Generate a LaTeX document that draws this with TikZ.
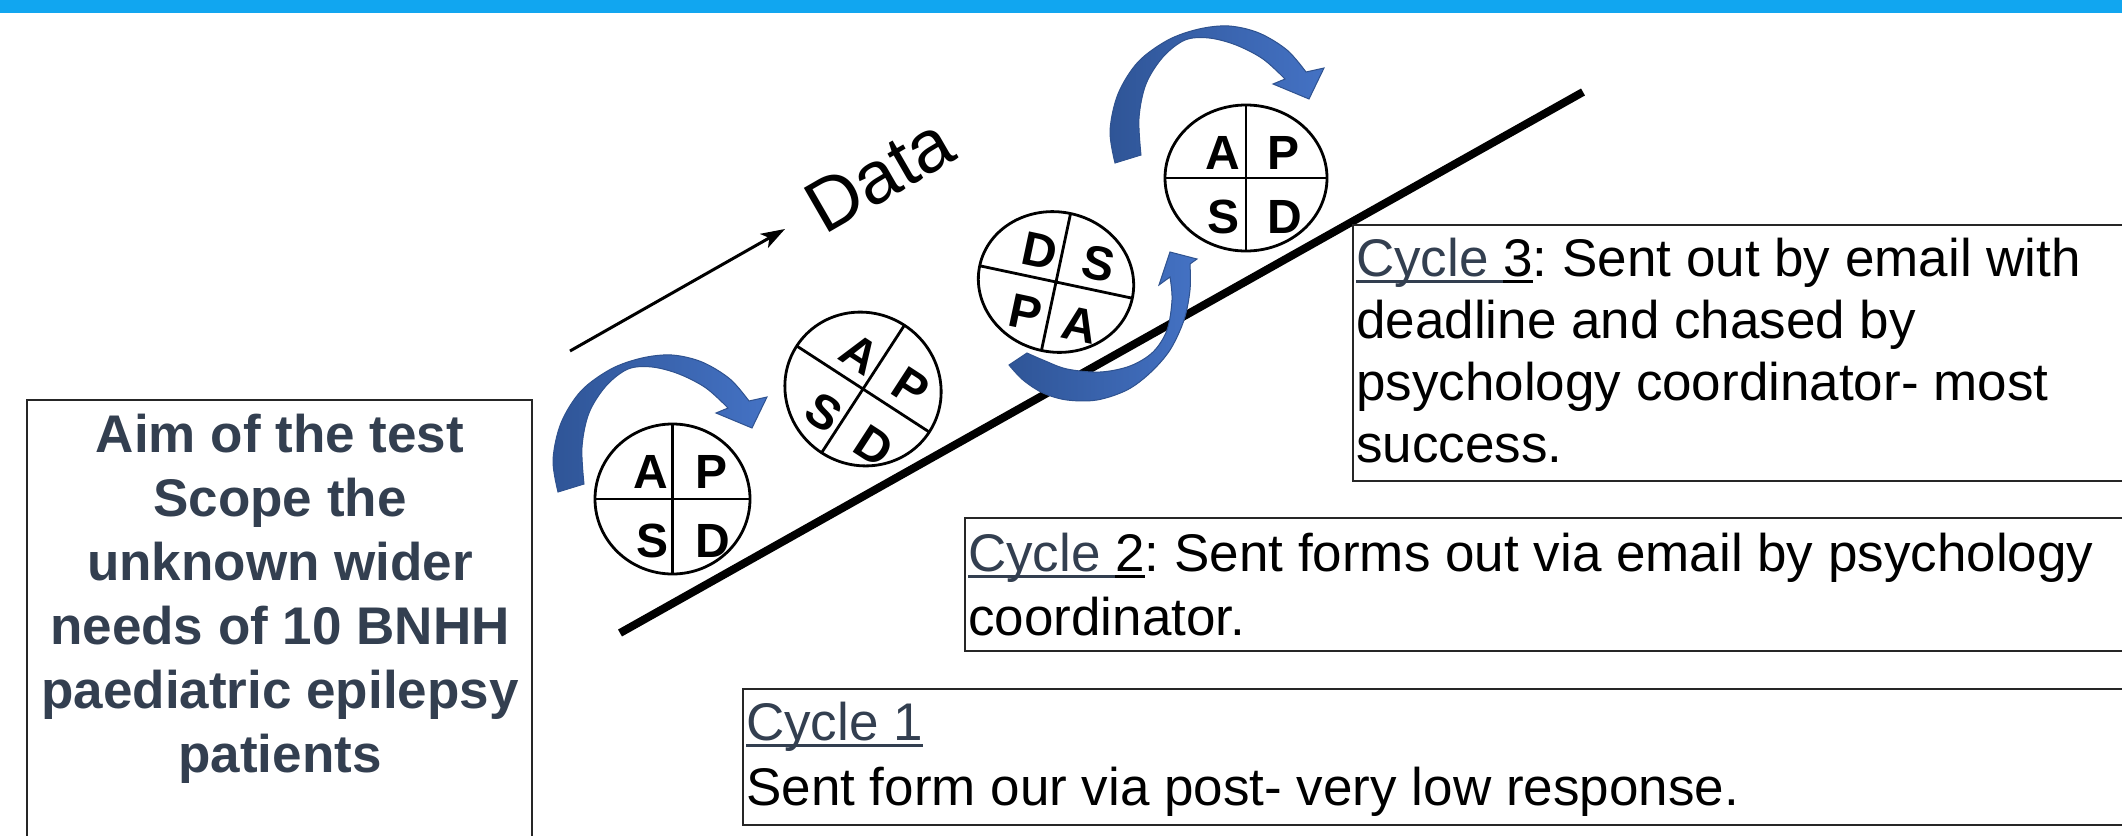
\documentclass[tikz,border=0pt]{standalone}
\usepackage{fontspec}
\setmainfont{Liberation Sans}
\usetikzlibrary{arrows.meta}
\definecolor{topbar}{RGB}{17,166,240}
\definecolor{slate}{RGB}{51,63,80}
\definecolor{alight}{RGB}{68,114,196}
\definecolor{adark}{RGB}{47,85,151}
\definecolor{aedge}{RGB}{47,82,143}
\newcommand{\ulc}[1]{\setbox0=\hbox{#1}\rlap{\rule[-7pt]{\wd0}{3pt}}\box0}
\frenchspacing
\tikzset{
  txt/.style={font=\fontsize{53}{64}\selectfont\frenchspacing, inner sep=0pt, anchor=base west},
  aimtxt/.style={font=\fontsize{53}{64}\selectfont\bfseries, text=slate, inner sep=0pt, anchor=base},
  lett/.style={font=\fontsize{48}{48}\selectfont\bfseries, inner sep=0pt},
  pdsa/.style={line width=2.8pt, fill=white},
  cross/.style={line width=2.8pt},
  cyclebox/.style={draw=black!85, line width=2pt},
  bluearrow/.style={left color=adark, middle color=alight, right color=alight, draw=aedge, line width=1pt}
}
\begin{document}
\begin{tikzpicture}[x=1pt,y=-1pt]
\useasboundingbox (0,0) rectangle (2122,835);
\clip (0,0) rectangle (2122,835);
\fill[white] (0,0) rectangle (2122,835);
\fill[topbar] (0,0) rectangle (2122,13);

% Aim box
\draw[cyclebox] (27,400) rectangle (532,860);
\node[aimtxt] (aim1) at (280,452) {Aim of the test};
\node[aimtxt] (aim2) at (280,516) {Scope the};
\node[aimtxt] (aim3) at (280,580) {unknown wider};
\node[aimtxt] (aim4) at (280,644) {needs of 10 BNHH};
\node[aimtxt] (aim5) at (280,708) {paediatric epilepsy};
\node[aimtxt] (aim6) at (280,772) {patients};

% diagonal line
\coordinate (l1) at (620,633);
\coordinate (l2) at (1583,92);
\draw[line width=8pt] (l1) -- (l2);

% Data arrow
\coordinate (ds) at (570,351);
\coordinate (de) at (785,229);
\draw[line width=3pt, -{Stealth[length=24pt, width=16pt, inset=6pt]}] (ds) -- (de);
\node[font=\fontsize{74}{74}\selectfont, inner sep=0pt, anchor=base west, rotate=30] (data) at (824,236) {Data};

% PDSA circle 1
\begin{scope}[shift={(672.5,499)}]
\draw[pdsa] (0,0) ellipse [x radius=77.5, y radius=75];
\draw[cross] (-77.5,0) -- (77.5,0) (0,-75) -- (0,75);
\node[lett, anchor=base east] (c1a) at (-4,-11) {A};
\node[lett, anchor=base west] (c1p) at (23,-11) {P};
\node[lett, anchor=base east] (c1s) at (-4,58) {S};
\node[lett, anchor=base west] (c1d) at (23,58) {D};
\end{scope}

% PDSA circle 2
\begin{scope}[shift={(863,389)}, rotate=-33, transform shape]
\draw[pdsa] (0,0) ellipse [x radius=79, y radius=76];
\draw[cross] (-79,0) -- (79,0) (0,-76) -- (0,76);
\node[lett, anchor=base east] (c2a) at (-4,-11) {A};
\node[lett, anchor=base west] (c2p) at (23,-11) {P};
\node[lett, anchor=base east] (c2s) at (-4,58) {S};
\node[lett, anchor=base west] (c2d) at (23,58) {D};
\end{scope}

% PDSA circle 3
\begin{scope}[shift={(1056,282)}, rotate=-12, transform shape]
\draw[pdsa] (0,0) ellipse [x radius=78, y radius=70];
\draw[cross] (-78,0) -- (78,0) (0,-70) -- (0,70);
\node[lett, anchor=base east] (c3d) at (-5,-10) {D};
\node[lett, anchor=base west] (c3s) at (22,-10) {S};
\node[lett, anchor=base east] (c3p) at (-7,53) {P};
\node[lett, anchor=base west] (c3a) at (15,53) {A};
\end{scope}

% PDSA circle 4
\begin{scope}[shift={(1246,178)}]
\draw[pdsa] (0,0) ellipse [x radius=81, y radius=73];
\draw[cross] (-81,0) -- (81,0) (0,-73) -- (0,73);
\node[lett, anchor=base east] (c4a) at (-6,-9) {A};
\node[lett, anchor=base west] (c4p) at (21,-9) {P};
\node[lett, anchor=base east] (c4s) at (-6,55) {S};
\node[lett, anchor=base west] (c4d) at (21,55) {D};
\end{scope}

% Cycle boxes
\draw[cyclebox] (1353,225) rectangle (2140,481);
\node[txt] (c3l1) at (1356,276) {{\color{slate}\ulc{Cycle }}\ulc{3}: Sent out by email with};
\node[txt] (c3l2) at (1356,338) {deadline and chased by};
\node[txt] (c3l3) at (1356,400) {psychology coordinator- most};
\node[txt] (c3l4) at (1356,462) {success.};

\draw[cyclebox] (965,518) rectangle (2140,651);
\node[txt] (c2l1) at (968,571) {{\color{slate}\ulc{Cycle }}\ulc{2}: Sent forms out via email by psychology};
\node[txt] (c2l2) at (968,635) {coordinator.};

\draw[cyclebox] (743,689) rectangle (2140,825);
\node[txt] (c1l1) at (746,740) {{\color{slate}\ulc{Cycle 1}}};
\node[txt] (c1l2) at (746,805) {Sent form our via post- very low response.};

% Blue curved arrows
\begin{scope}
\path[bluearrow] plot[smooth, tension=0.55] coordinates {(558,492) (553,460) (561,423) (581,391) (611,369) (642,358) (672,355) (702,362) (730,379) (749,401)}
  -- (767,397) -- (752,428) -- (716,413) -- (728,408)
  -- plot[smooth, tension=0.55] coordinates {(728,408) (706,388) (679,374) (652,367) (628,369) (606,386) (589,413) (582,447) (584,484)} -- cycle;
\end{scope}
\begin{scope}[shift={(557,-329)}]
\path[bluearrow] plot[smooth, tension=0.55] coordinates {(558,492) (553,460) (561,423) (581,391) (611,369) (642,358) (672,355) (702,362) (730,379) (749,401)}
  -- (767,397) -- (752,428) -- (716,413) -- (728,408)
  -- plot[smooth, tension=0.55] coordinates {(728,408) (706,388) (679,374) (652,367) (628,369) (606,386) (589,413) (582,447) (584,484)} -- cycle;
\end{scope}
\path[bluearrow] plot[smooth, tension=0.55] coordinates {(1009,365) (1023,380) (1043,393) (1067,400) (1097,400) (1127,390) (1150,373) (1170,350) (1184,320) (1190,290) (1190,264)}
  -- (1197,259) -- (1170,252) -- (1159,285) -- (1170,277)
  -- plot[smooth, tension=0.55] coordinates {(1170,277) (1172,300) (1167,330) (1153,352) (1130,366) (1100,372) (1067,369) (1043,360) (1027,353)} -- cycle;
\end{tikzpicture}
\end{document}
